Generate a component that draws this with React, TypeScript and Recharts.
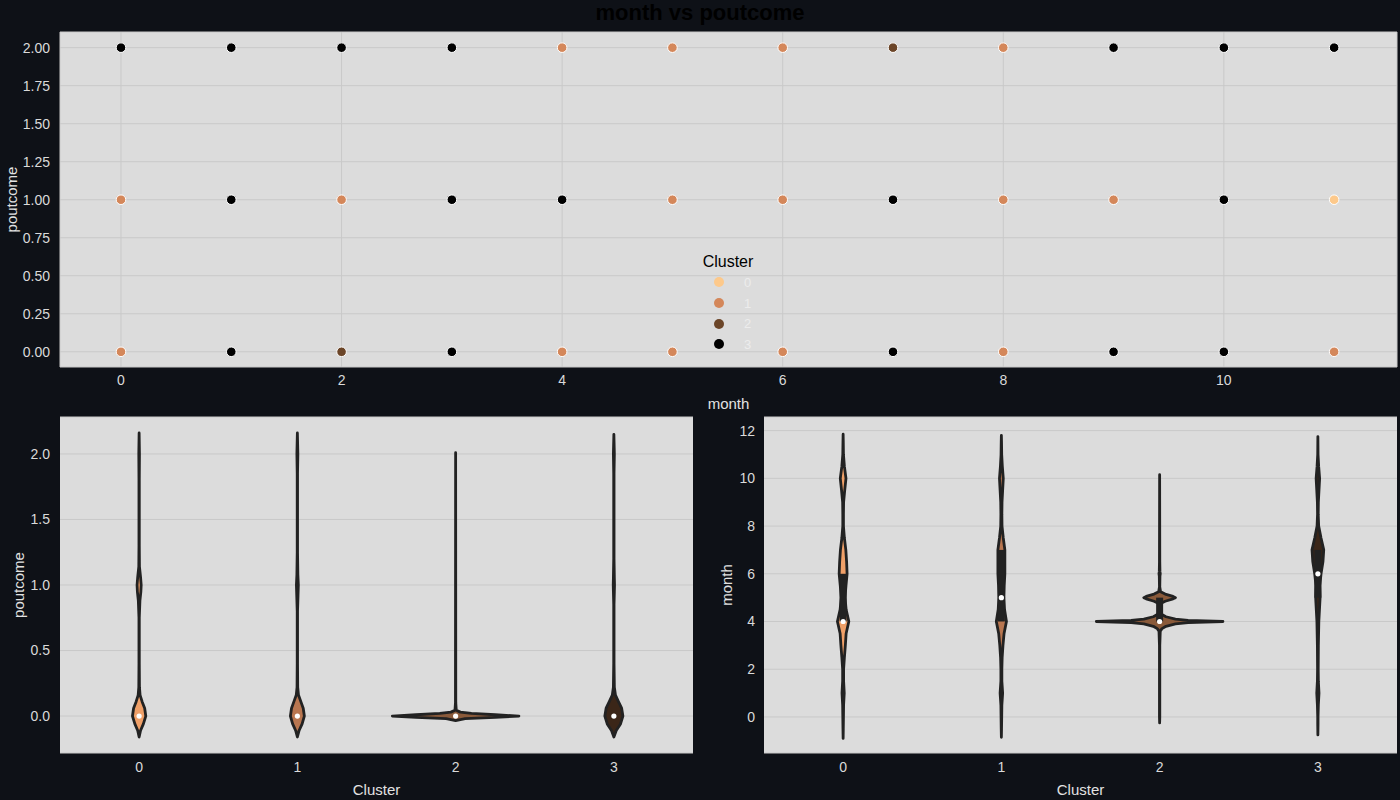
import React from "react";
import { ScatterChart, Scatter, XAxis, YAxis, CartesianGrid, Legend } from "recharts";

const months = [0, 1, 2, 3, 4, 5, 6, 7, 8, 9, 10, 11];
// cluster of the visible dot at each month, per poutcome level
const clusterAtPoutcome2 = [3, 3, 3, 3, 1, 1, 1, 2, 1, 3, 3, 3];
const clusterAtPoutcome1 = [1, 3, 1, 3, 3, 1, 1, 3, 1, 1, 3, 0];
const clusterAtPoutcome0 = [1, 3, 2, 3, 1, 1, 1, 3, 1, 3, 3, 1];

const clusters = [0, 1, 2, 3];
const scatterColors = ["#fdc98b", "#d4875a", "#6b4528", "#000000"];
const violinColors = ["#f0a068", "#b87650", "#8a5a3a", "#3b2618"];

const topXTicks = [0, 2, 4, 6, 8, 10];
const topYTicks = [0, 0.25, 0.5, 0.75, 1, 1.25, 1.5, 1.75, 2];
const poutcomeTicks = [0, 0.5, 1, 1.5, 2];
const monthTicks = [0, 2, 4, 6, 8, 10, 12];

// violin outlines: [value, half width in cluster units]
const poutcomeViolin0 = [[-0.16, 0], [-0.11, 0.009], [-0.06, 0.027], [0, 0.042], [0.06, 0.035], [0.11, 0.019], [0.16, 0.006], [0.22, 0.002], [0.4, 0.001], [0.75, 0.001], [0.88, 0.005], [0.95, 0.011], [1.0, 0.013], [1.06, 0.009], [1.14, 0.002], [1.3, 0.001], [1.8, 0.001], [2.0, 0.002], [2.16, 0]];
const poutcomeViolin1 = [[-0.16, 0], [-0.11, 0.011], [-0.06, 0.03], [0, 0.044], [0.06, 0.037], [0.11, 0.022], [0.16, 0.007], [0.22, 0.002], [0.4, 0.001], [0.8, 0.001], [0.92, 0.004], [1.0, 0.006], [1.08, 0.003], [1.25, 0.001], [1.85, 0.001], [2.0, 0.003], [2.16, 0]];
const poutcomeViolin2 = [[-0.035, 0], [-0.02, 0.06], [-0.01, 0.25], [0, 0.4], [0.01, 0.25], [0.02, 0.1], [0.03, 0.03], [0.045, 0.004], [0.1, 0.001], [2.01, 0]];
const poutcomeViolin3 = [[-0.16, 0], [-0.11, 0.015], [-0.06, 0.042], [0, 0.057], [0.06, 0.049], [0.11, 0.029], [0.16, 0.01], [0.22, 0.003], [0.4, 0.001], [0.85, 0.001], [0.95, 0.003], [1.0, 0.004], [1.05, 0.003], [1.2, 0.001], [1.85, 0.001], [2.0, 0.003], [2.15, 0]];
const poutcomeMedians = [0, 0, 0, 0];

const monthViolin0 = [[-0.9, 0], [-0.5, 0.001], [0, 0.002], [0.5, 0.003], [1, 0.007], [1.5, 0.003], [2, 0.003], [2.5, 0.008], [3, 0.014], [3.5, 0.019], [4, 0.036], [4.5, 0.019], [5, 0.012], [5.5, 0.018], [6, 0.025], [6.5, 0.022], [7, 0.017], [7.5, 0.008], [8, 0.002], [8.5, 0.002], [9, 0.003], [9.5, 0.01], [10, 0.018], [10.5, 0.008], [11, 0.002], [11.5, 0.001], [11.85, 0]];
const monthViolin1 = [[-0.85, 0], [-0.5, 0.001], [0, 0.002], [0.5, 0.003], [1, 0.008], [1.5, 0.003], [2, 0.003], [2.5, 0.005], [3, 0.01], [3.5, 0.017], [4, 0.032], [4.5, 0.02], [5, 0.016], [5.5, 0.018], [6, 0.022], [6.5, 0.022], [7, 0.022], [7.5, 0.012], [8, 0.004], [8.5, 0.003], [9, 0.004], [9.5, 0.008], [10, 0.012], [10.5, 0.006], [11, 0.002], [11.5, 0.001], [11.8, 0]];
const monthViolin2 = [[-0.25, 0], [0, 0.001], [3, 0.001], [3.6, 0.004], [3.7, 0.015], [3.8, 0.04], [3.9, 0.1], [3.95, 0.18], [4, 0.4], [4.05, 0.18], [4.1, 0.1], [4.2, 0.04], [4.3, 0.012], [4.45, 0.002], [4.75, 0.006], [4.85, 0.035], [4.95, 0.085], [5, 0.1], [5.05, 0.085], [5.15, 0.035], [5.25, 0.006], [5.45, 0.001], [5.9, 0.002], [6, 0.004], [6.1, 0.002], [6.5, 0.001], [10.15, 0]];
const monthViolin3 = [[-0.75, 0], [-0.3, 0.001], [0, 0.001], [0.5, 0.003], [1, 0.007], [1.5, 0.003], [2, 0.002], [3, 0.003], [4, 0.006], [4.5, 0.01], [5, 0.014], [5.5, 0.012], [6, 0.02], [6.5, 0.032], [7, 0.037], [7.5, 0.02], [8, 0.005], [8.5, 0.002], [9, 0.003], [9.5, 0.007], [10, 0.011], [10.5, 0.005], [11, 0.001], [11.75, 0]];
const monthMedians = [4, 5, 4, 6];
const monthQ1 = [4, 4, 4, 5];
const monthQ3 = [6, 7, 5, 7];

const poutcomeViolins = [poutcomeViolin0, poutcomeViolin1, poutcomeViolin2, poutcomeViolin3];
const monthViolins = [monthViolin0, monthViolin1, monthViolin2, monthViolin3];

const topPoints = clusters.map(() => [] as { x: number; y: number }[]);
[
  [2, clusterAtPoutcome2],
  [1, clusterAtPoutcome1],
  [0, clusterAtPoutcome0],
].forEach(([level, row]: any) => {
  months.forEach((m, i) => topPoints[row[i]].push({ x: m, y: level }));
});

const outline = (c: number, knots: number[][]) => [
  ...knots.map(([v, w]) => ({ x: c + w, y: v })),
  ...knots
    .slice()
    .reverse()
    .map(([v, w]) => ({ x: c - w, y: v })),
];

const font = "'Liberation Sans', Arial, sans-serif";
const tickStyle = { fill: "#dadada", fontSize: 14 };
const labelStyle = { fill: "#e2e2e2", fontSize: 15, textAnchor: "middle" as const };
const grid = "#c9c9c9";
const edge = "#222222";

const none = () => <g />;

const violinLine = (fill: string) => (props: any) => {
  const pts = props.points || [];
  if (!pts.length) return <g />;
  const d = pts.map((p: any, i: number) => `${i ? "L" : "M"}${p.x},${p.y}`).join(" ") + " Z";
  return <path d={d} fill={fill} stroke={edge} strokeWidth={2.8} strokeLinejoin="round" />;
};

const boxLine = (props: any) => {
  const pts = props.points || [];
  if (pts.length < 2) return <g />;
  return (
    <path
      d={`M${pts[0].x},${pts[0].y} L${pts[1].x},${pts[1].y}`}
      stroke={edge}
      strokeWidth={7}
      fill="none"
    />
  );
};

const medianDot = (props: any) => <circle cx={props.cx} cy={props.cy} r={2.6} fill="#ffffff" />;

const ClusterLegend = () => (
  <div style={{ width: 56, fontFamily: font }}>
    <div style={{ textAlign: "center", fontSize: 16, lineHeight: "20px", color: "#000" }}>Cluster</div>
    {clusters.map((c) => (
      <div key={c} style={{ display: "flex", alignItems: "center", height: 20.7 }}>
        <span
          style={{
            marginLeft: 14,
            width: 10,
            height: 10,
            borderRadius: 5,
            background: scatterColors[c],
          }}
        />
        <span style={{ marginLeft: 20, fontSize: 13, color: "#ececec" }}>{c}</span>
      </div>
    ))}
  </div>
);

const ViolinPanel = ({
  violins,
  medians,
  q1,
  q3,
  domain,
  ticks,
  fmt,
  yLabel,
  yWidth,
  labelOffset,
  tickGap,
  right,
}: any) => (
  <ScatterChart width={700} height={390} margin={{ top: 7, right, bottom: 0, left: 0 }}>
    <CartesianGrid fill="#dcdcdc" stroke={grid} vertical={false} />
    <XAxis
      type="number"
      dataKey="x"
      domain={[-0.5, 3.5]}
      ticks={clusters}
      allowDataOverflow
      tickLine={false}
      axisLine={false}
      tickSize={0}
      tickMargin={9}
      height={47}
      tick={tickStyle}
      label={{ value: "Cluster", position: "insideBottom", offset: 5, style: labelStyle }}
    />
    <YAxis
      type="number"
      dataKey="y"
      domain={domain}
      ticks={ticks}
      allowDataOverflow
      tickFormatter={fmt}
      tickLine={false}
      axisLine={false}
      tickSize={0}
      tickMargin={tickGap}
      width={yWidth}
      tick={tickStyle}
      label={{ value: yLabel, angle: -90, position: "insideLeft", offset: labelOffset, style: labelStyle }}
    />
    {clusters.map((c) => (
      <Scatter
        key={`v${c}`}
        data={outline(c, violins[c])}
        line={violinLine(violinColors[c])}
        shape={none}
        isAnimationActive={false}
      />
    ))}
    {q1 &&
      clusters.map((c) => (
        <Scatter
          key={`b${c}`}
          data={[
            { x: c, y: q1[c] },
            { x: c, y: q3[c] },
          ]}
          line={boxLine}
          shape={none}
          isAnimationActive={false}
        />
      ))}
    <Scatter
      data={clusters.map((c) => ({ x: c, y: medians[c] }))}
      shape={medianDot}
      isAnimationActive={false}
    />
  </ScatterChart>
);

export default function App() {
  return (
    <div
      style={{
        position: "absolute",
        left: 0,
        top: 0,
        width: 1400,
        height: 800,
        background: "#0e1117",
        fontFamily: font,
        overflow: "hidden",
      }}
    >
      <div style={{ position: "absolute", left: 0, top: 0, width: 1400 }}>
        <ScatterChart width={1400} height={418} margin={{ top: 32, right: 3, bottom: 0, left: 0 }}>
          <CartesianGrid fill="#dcdcdc" stroke={grid} />
          <XAxis
            type="number"
            dataKey="x"
            domain={[-0.553, 11.57]}
            ticks={topXTicks}
            allowDataOverflow
            tickLine={false}
            axisLine={false}
            tickSize={0}
            tickMargin={8}
            height={51}
            tick={tickStyle}
            label={{ value: "month", position: "insideBottom", offset: 9, style: labelStyle }}
          />
          <YAxis
            type="number"
            dataKey="y"
            domain={[-0.1, 2.103]}
            ticks={topYTicks}
            allowDataOverflow
            tickFormatter={(v: number) => v.toFixed(2)}
            tickLine={false}
            axisLine={false}
            tickSize={0}
            tickMargin={10}
            width={60}
            tick={tickStyle}
            label={{ value: "poutcome", angle: -90, position: "insideLeft", offset: 12, style: labelStyle }}
          />
          {clusters.map((c) => (
            <Scatter
              key={c}
              name={String(c)}
              data={topPoints[c]}
              fill={scatterColors[c]}
              shape={(p: any) => (
                <circle cx={p.cx} cy={p.cy} r={4.8} fill={scatterColors[c]} stroke="#ffffff" strokeWidth={1} />
              )}
              isAnimationActive={false}
            />
          ))}
          <Legend
            layout="vertical"
            align="center"
            verticalAlign="middle"
            content={() => <ClusterLegend />}
            wrapperStyle={{ position: "absolute", left: 700, top: 252, width: 56, height: 104 }}
          />
        </ScatterChart>
      </div>

      <div style={{ position: "absolute", left: 0, top: 410 }}>
        <ViolinPanel
          violins={poutcomeViolins}
          medians={poutcomeMedians}
          domain={[-0.282, 2.282]}
          ticks={poutcomeTicks}
          fmt={(v: number) => v.toFixed(1)}
          yLabel="poutcome"
          yWidth={60}
          labelOffset={19}
          tickGap={10}
          right={7}
        />
      </div>

      <div style={{ position: "absolute", left: 700, top: 410 }}>
        <ViolinPanel
          violins={monthViolins}
          medians={monthMedians}
          q1={monthQ1}
          q3={monthQ3}
          domain={[-1.51, 12.57]}
          ticks={monthTicks}
          fmt={(v: number) => String(v)}
          yLabel="month"
          yWidth={64}
          labelOffset={27}
          tickGap={9}
          right={3}
        />
      </div>

      <div
        style={{
          position: "absolute",
          left: 0,
          top: 0,
          width: 1400,
          textAlign: "center",
          fontSize: 22,
          fontWeight: "bold",
          lineHeight: "26px",
          color: "#000000",
        }}
      >
        month vs poutcome
      </div>
    </div>
  );
}
